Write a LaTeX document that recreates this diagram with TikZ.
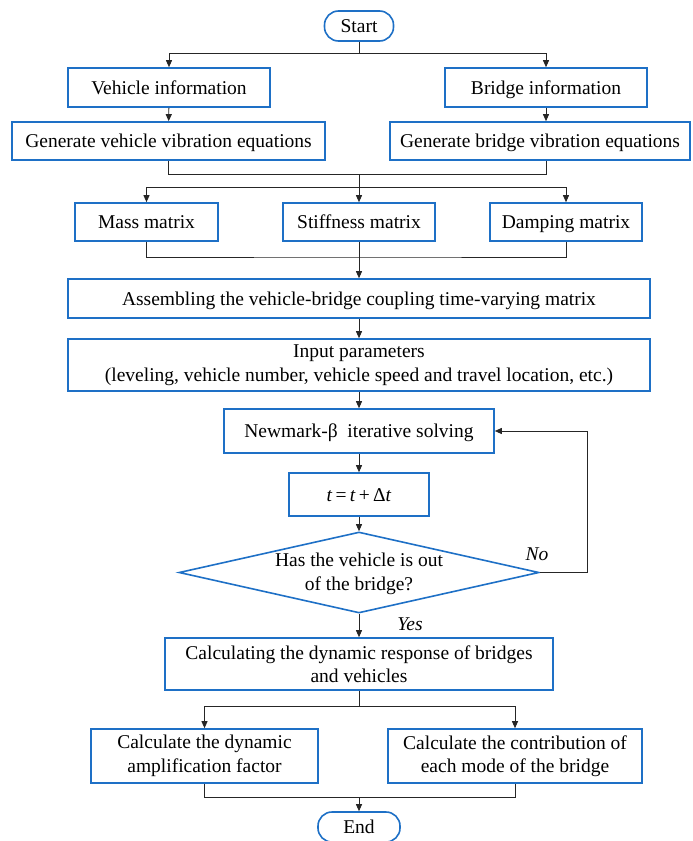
\documentclass[tikz,border=0pt]{standalone}
\usepackage{fontspec}
\setmainfont{Liberation Serif}
\usetikzlibrary{arrows.meta,shapes.geometric}
\definecolor{boxblue}{RGB}{30,112,198}
\tikzset{
  box/.style={draw=boxblue,line width=1.6bp,rectangle,inner sep=0pt,align=center},
  onebox/.style={box,text height=15.5bp,text depth=2.5bp},
  term/.style={onebox,rounded corners=14bp,minimum height=30bp},
  decision/.style={draw=boxblue,line width=1.6bp,diamond,inner sep=0pt,minimum width=360bp,minimum height=81bp},
  link/.style={line width=0.9bp,draw=black!85},
  arr/.style={link,-{Triangle[length=7bp,width=6bp]}},
  every node/.style={font=\fontsize{19.5bp}{23.5bp}\selectfont}
}
\begin{document}
\begin{tikzpicture}[x=1bp,y=-1bp]
\useasboundingbox (0,0) rectangle (693,841);
\node[term,minimum width=69bp] (start) at (359,26) {Start};
\node[onebox,minimum width=202bp,minimum height=39bp] (vinfo) at (169,87.5) {Vehicle information};
\node[onebox,minimum width=202bp,minimum height=39bp] (binfo) at (546,87.5) {Bridge information};
\node[onebox,minimum width=313bp,minimum height=38bp] (veq) at (168.5,141) {Generate vehicle vibration equations};
\node[onebox,minimum width=300bp,minimum height=38bp] (beq) at (540,141) {Generate bridge vibration equations};
\node[onebox,minimum width=143bp,minimum height=38bp] (mass) at (146.5,222) {Mass matrix};
\node[onebox,minimum width=152bp,minimum height=38bp] (stiff) at (359,222) {Stiffness matrix};
\node[onebox,minimum width=152bp,minimum height=38bp] (damp) at (566,222) {Damping matrix};
\node[onebox,minimum width=582bp,minimum height=39bp] (assem) at (359,298.5) {Assembling the vehicle-bridge coupling time-varying matrix};
\node[box,minimum width=582bp,minimum height=52bp] (input) at (359,365) {Input parameters\\(leveling, vehicle number, vehicle speed and travel location, etc.)};
\node[onebox,minimum width=270bp,minimum height=44bp] (newmark) at (359,431) {Newmark-β~ iterative solving};
\node[onebox,minimum width=140bp,minimum height=43bp] (tstep) at (359,494.5) {\textit{t}\,=\,\textit{t}\,+\,Δ\textit{t}};
\node[decision] (check) at (359,572.5) {};
\node[align=center] (checktxt) at (359,574) {Has the vehicle is out\\of the bridge?};
\node[box,minimum width=388bp,minimum height=52bp] (calc) at (359,664) {Calculating the dynamic response of bridges\\and vehicles};
\node[box,minimum width=227bp,minimum height=54bp] (dafn) at (204.5,756) {Calculate the dynamic\\amplification factor};
\node[box,minimum width=254bp,minimum height=54bp] (mode) at (515,756) {Calculate the contribution of\\each mode of the bridge};
\node[term,minimum width=82bp] (end) at (359,827) {End};
\node (no) at (537,554) {\textit{No}};
\node (yes) at (410,624) {\textit{Yes}};
\coordinate (split1) at (359,53);
\coordinate (join1) at (359,174);
\coordinate (split2) at (359,187);
\coordinate (join2) at (359,257);
\coordinate (split3) at (359,706);
\coordinate (join3) at (359,797);
\draw[link] (start) -- (split1);
\draw[arr] (split1) -| (vinfo);
\draw[arr] (split1) -| (binfo);
\draw[arr] (vinfo) -- (veq);
\draw[arr] (binfo.south) -- (binfo.south |- beq.north);
\draw[link] (veq) |- (join1);
\draw[link] (beq.south -| binfo.south) |- (join1);
\draw[arr] (join1) -- (stiff);
\draw[arr] (split2) -| (mass);
\draw[arr] (split2) -| (damp);
\draw[link] (mass) |- (join2) -| (damp);
\draw[arr] (stiff) -- (assem);
\draw[arr] (assem) -- (input);
\draw[arr] (input) -- (newmark);
\draw[arr] (newmark) -- (tstep);
\draw[arr] (tstep) -- (check);
\draw[arr] (check.east) -- ++(48,0) |- (newmark.east);
\draw[arr] (check) -- (calc);
\draw[link] (calc) -- (split3);
\draw[arr] (split3) -| (dafn);
\draw[arr] (split3) -| (mode);
\draw[link] (dafn) |- (join3) -| (mode);
\draw[arr] (join3) -- (end);
\end{tikzpicture}
\end{document}
